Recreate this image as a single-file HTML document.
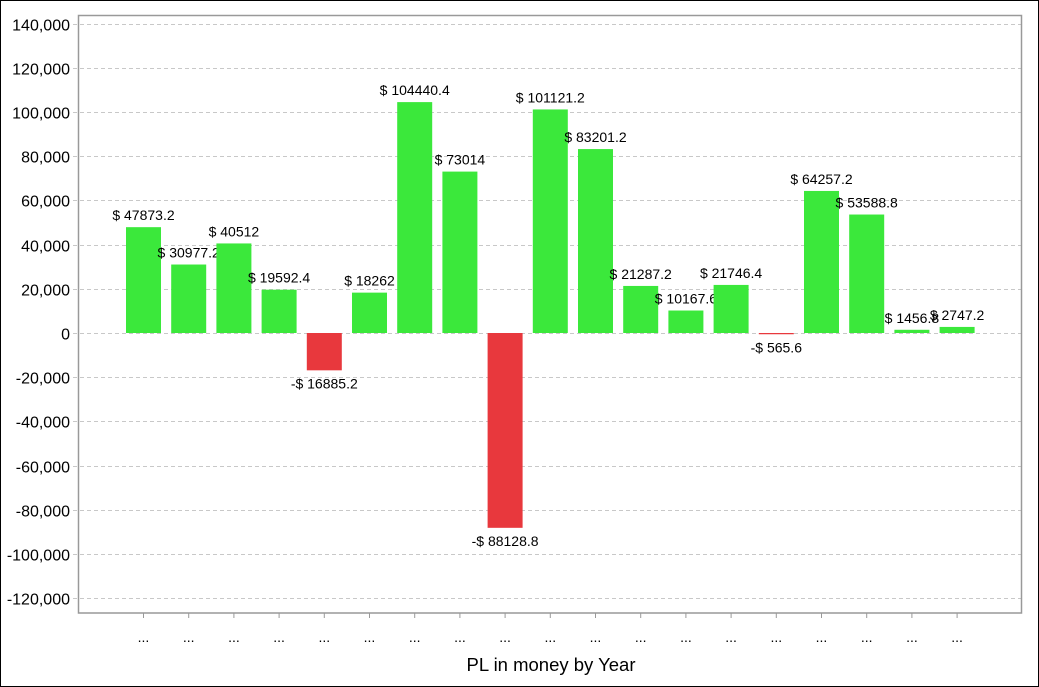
<!DOCTYPE html>
<html><head><meta charset="utf-8"><style>
html,body{margin:0;padding:0;background:#fff}
#c{position:absolute;left:0;top:0;width:1037px;height:685px;border:1px solid #000}
svg{position:absolute;left:0;top:0}
text{font-family:"Liberation Sans",Arial,sans-serif;fill:#000}
</style></head><body><div id="c"></div>
<svg id="s" width="1039" height="687" xmlns="http://www.w3.org/2000/svg"></svg>
<script>
var s=document.getElementById('s'),NS='http://www.w3.org/2000/svg';
function el(t,a,txt){var e=document.createElementNS(NS,t);for(var k in a)e.setAttribute(k,a[k]);if(txt!=null)e.textContent=txt;s.appendChild(e);return e;}
var y0=333,k=(333-23.5)/140000;
function Y(v){return y0-v*k;}
for(var v=-120000;v<=140000;v+=20000){var y=Math.round(Y(v))+0.5;
el('line',{x1:73,x2:1022,y1:y,y2:y,stroke:'#c8c8c8','stroke-dasharray':'4,3','stroke-width':1});
el('text',{x:70,y:y+6,'text-anchor':'end','font-size':'16'},v.toLocaleString('en-US'));}
el('rect',{x:78.5,y:15.5,width:943,height:597.5,fill:'none',stroke:'#999','stroke-width':1.5});
var vals=[47873.2,30977.2,40512,19592.4,-16885.2,18262,104440.4,73014,-88128.8,101121.2,83201.2,21287.2,10167.6,21746.4,-565.6,64257.2,53588.8,1456.8,2747.2];
vals.forEach(function(v,i){var c=143.5+45.2*i;
var top=v>=0?Y(v):y0, h=Math.abs(v)*k;
el('rect',{x:c-17.5,y:top,width:35,height:Math.max(h,1),fill:v>=0?'#3be83b':'#e8383d'});
var lab=(v<0?'-$ ':'$ ')+Math.abs(v);
el('text',{x:c,y:v>=0?top-7:y0+h+18,'text-anchor':'middle','font-size':'14'},lab);
el('line',{x1:c,x2:c,y1:613,y2:618,stroke:'#999'});
el('text',{x:c,y:642,'text-anchor':'middle','font-size':'14'},'...');
});
el('text',{x:551,y:671,'text-anchor':'middle','font-size':'18.5'},'PL in money by Year');
</script></body></html>
